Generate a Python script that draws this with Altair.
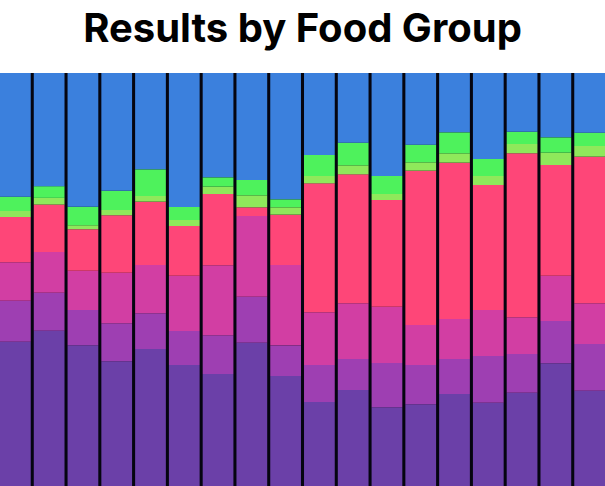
import altair as alt
import pandas as pd

# Survey respondents (18 bars), share by food group (relative units)
bars = [f"R{i:02d}" for i in range(1, 19)]
groups = ["Grains", "Dairy", "Protein", "Vegetables", "Fruits", "Legumes", "Sweets"]
colors = ["#6b40a8", "#9e3fb2", "#d23ea3", "#fe4678", "#8fe85b", "#4ef25c", "#3b80dd"]

grains = [433, 465, 422, 374, 411, 363, 336, 430, 330, 252, 288, 236, 245, 276, 250, 280, 368, 286]
dairy = [123, 114, 106, 114, 107, 102, 116, 138, 92, 111, 93, 133, 118, 105, 140, 116, 127, 140]
protein = [115, 122, 118, 152, 145, 166, 210, 242, 241, 158, 167, 169, 120, 120, 138, 110, 136, 122]
vegetables = [136, 142, 124, 172, 190, 149, 214, 26, 151, 387, 387, 320, 463, 469, 375, 492, 332, 440]
fruits = [18, 20, 12, 16, 17, 18, 22, 36, 22, 22, 27, 18, 25, 28, 27, 28, 37, 32]
legumes = [43, 35, 56, 58, 80, 39, 28, 46, 24, 63, 68, 54, 53, 63, 51, 37, 46, 40]
sweets = [371, 339, 401, 353, 289, 402, 313, 321, 379, 246, 209, 309, 215, 178, 258, 176, 193, 179]

series = [grains, dairy, protein, vegetables, fruits, legumes, sweets]

rows = []
for gi, (g, vals) in enumerate(zip(groups, series)):
    for b, v in zip(bars, vals):
        rows.append({"bar": b, "group": g, "idx": gi, "value": v})
df = pd.DataFrame(rows)

chart = (
    alt.Chart(df)
    .mark_bar()
    .encode(
        x=alt.X("bar:N", axis=None, sort=bars,
                scale=alt.Scale(paddingInner=0.09, paddingOuter=0)),
        y=alt.Y("value:Q", stack="normalize", axis=None),
        color=alt.Color("group:N", scale=alt.Scale(domain=groups, range=colors), legend=None),
        order=alt.Order("idx:Q", sort="ascending"),
    )
    .properties(
        width=605,
        height=486,
        autosize=alt.AutoSizeParams(type="fit", contains="padding"),
        padding={"top": 10, "left": 0, "right": 0, "bottom": 0},
        background="white",
        title=alt.TitleParams(
            "Results by Food Group",
            font="Inter",
            fontSize=40,
            fontWeight="bold",
            color="#000000",
            anchor="middle",
            offset=23,
        ),
    )
    .configure_view(fill="#050510", stroke=None)
)

chart.save("out.html", embed_options={"renderer": "svg", "actions": False})
